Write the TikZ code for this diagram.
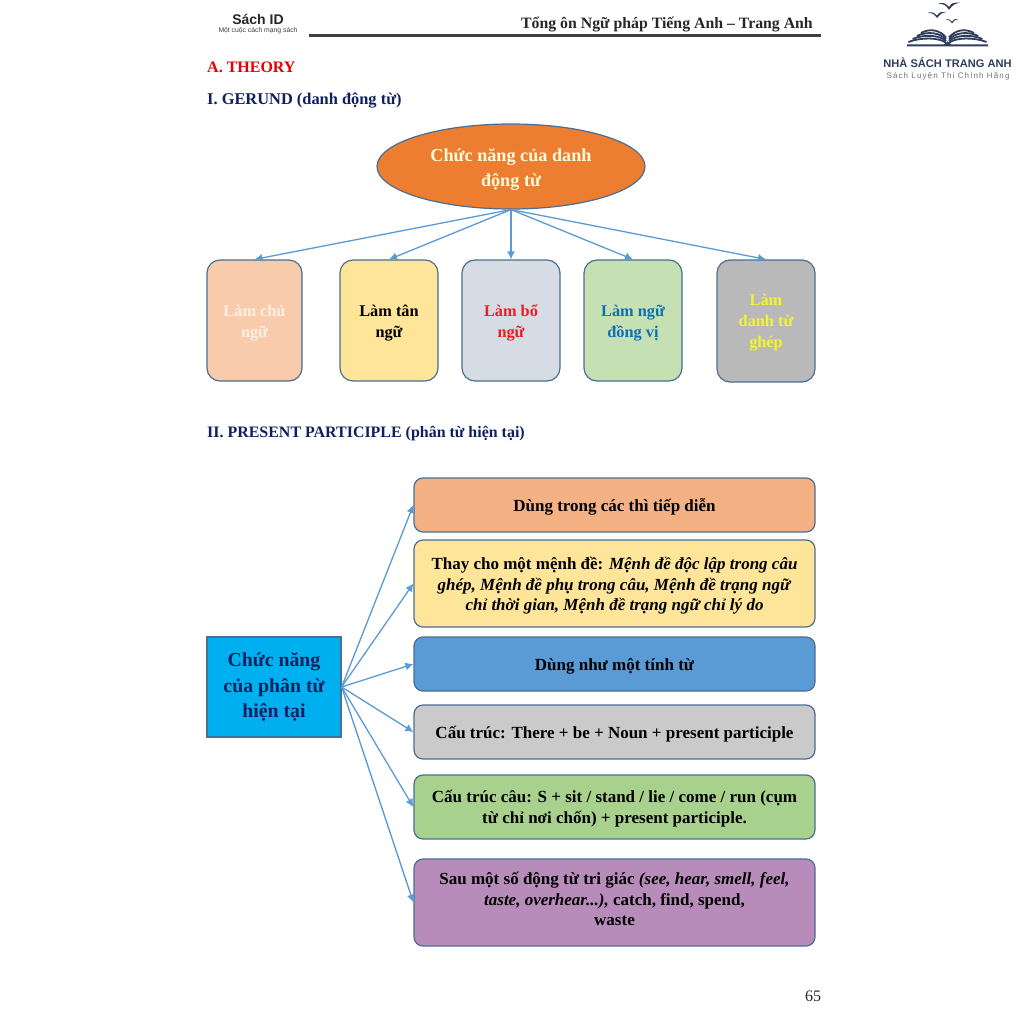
\documentclass[tikz,border=0pt]{standalone}
\usepackage{fontspec}
\setmainfont{Liberation Serif}
\setsansfont{Liberation Sans}
\newfontfamily\lgsub[LetterSpace=14]{Liberation Sans}
\usetikzlibrary{shapes.geometric,arrows.meta}
\definecolor{navy}{HTML}{0F2060}
\definecolor{logob}{HTML}{2F3E5C}
\definecolor{edgeb}{HTML}{4A6E94}
\definecolor{arrowb}{HTML}{5B9BD5}
\newcommand{\uprule}[1]{\rule{0pt}{#1}}
\tikzset{
 x=1pt,y=-1pt,
 rbox/.style={draw=edgeb,line width=1.2pt,rounded corners=13pt,inner sep=0pt,align=center,font=\bfseries\fontsize{16.3}{21}\selectfont},
 wbox/.style={draw=edgeb,line width=1.2pt,rounded corners=9pt,inner sep=0pt,align=center,font=\bfseries\fontsize{17}{20.5}\selectfont},
 conn/.style={draw=arrowb,line width=1.3pt,-{Latex[length=8pt,width=8pt]}},
 hd/.style={anchor=west,inner sep=0pt,font=\bfseries\fontsize{15.95}{18}\selectfont},
}
\newcommand{\bx}[6]{\node[#6,fill=#5,minimum width=#3 pt-#1 pt,minimum height=#4 pt-#2 pt] at ({(#1+#3)/2},{(#2+#4)/2})}
\begin{document}
\begin{tikzpicture}
\useasboundingbox (0,0) rectangle (1024,1024);
\fill[white] (0,0) rectangle (1024,1024);
% header
\node[inner sep=0pt,font=\sffamily\bfseries\fontsize{14}{16}\selectfont,text=black!85] (sid) at (258,19) {Sách ID};
\node[inner sep=0pt,font=\sffamily\fontsize{6.8}{8}\selectfont,text=black!75] (sidsub) at (258,31) {Một cuộc cách mạng sách};
\node[anchor=east,inner sep=0pt,font=\bfseries\fontsize{15.8}{18}\selectfont,text=black!85] (title) at (813,24) {Tổng ôn Ngữ pháp Tiếng Anh – Trang Anh};
\fill[black!75] (309,34.5) rectangle (821,37);
% logo
\foreach \bxx/\byy/\s in {949/5/1.6,937/14/1.35,952/20.5/0.95}{
 \fill[logob] (\bxx-7*\s,\byy-1*\s) .. controls (\bxx-3*\s,\byy-1.5*\s) .. (\bxx,\byy+1.2*\s) .. controls (\bxx+2*\s,\byy-1.5*\s) .. (\bxx+7*\s,\byy-1.5*\s) .. controls (\bxx+3*\s,\byy-0.5*\s) .. (\bxx,\byy+3*\s) .. controls (\bxx-2.5*\s,\byy-0.3*\s) .. cycle;
}
\foreach \i in {0,1,2,3}{
 \draw[logob,line width=1.8pt] ({921-4.2*\i},{33+3*\i}) .. controls ({930-3*\i},{28+3*\i}) and (940,{30+2.5*\i}) .. ({946},{37.5+1.8*\i});
 \draw[logob,line width=1.8pt] ({974+4.2*\i},{33+3*\i}) .. controls ({965+3*\i},{28+3*\i}) and (955,{30+2.5*\i}) .. ({949},{37.5+1.8*\i});
}
\fill[logob] (907,44.3) -- (944,44.3) -- (947.5,41.5) -- (951,44.3) -- (988,44.3) -- (988,46.3) -- (907,46.3) -- cycle;
\node[inner sep=0pt,font=\sffamily\bfseries\fontsize{11.1}{12}\selectfont,text=logob] (lg1) at (947.5,63) {NHÀ SÁCH TRANG ANH};
\node[inner sep=0pt,font=\lgsub\fontsize{8}{9}\selectfont,text=black!55] (lg2) at (948,76.5) {Sách Luyện Thi Chính Hãng};
% headings
\node[hd,text=red!90!black,font=\bfseries\fontsize{16}{20}\selectfont] (ha) at (207,67.5) {A. THEORY};
\node[hd,text=navy,font=\bfseries\fontsize{16.4}{18}\selectfont] (h1) at (207,101) {I. GERUND (danh động từ)};
\node[hd,text=navy] (h2) at (207,434) {II. PRESENT PARTICIPLE (phân từ hiện tại)};
% gerund
\definecolor{eor}{HTML}{ED7D31}
\node[ellipse,draw=edgeb,line width=1.2pt,fill=eor,inner sep=0pt,minimum width=268pt,minimum height=85pt,align=center,text=white!85!yellow,font=\bfseries\fontsize{18.2}{25}\selectfont] (e) at (511,166.5) {\uprule{20pt}Chức năng của danh\\động từ};
\definecolor{c1}{HTML}{F7CBAC}\definecolor{c2}{HTML}{FEE599}\definecolor{c3}{HTML}{D5DCE4}\definecolor{c4}{HTML}{C5E0B3}\definecolor{c5}{HTML}{B9B9B9}
\definecolor{tblue}{HTML}{0F6FB5}\definecolor{tred}{HTML}{EC1C24}\definecolor{tyel}{HTML}{F5F52A}
\bx{207}{260}{302}{381}{c1}{rbox,text=white!90!orange} (g1) {\uprule{16pt}Làm chủ\\ngữ};
\bx{340}{260}{438}{381}{c2}{rbox,text=black} (g2) {\uprule{16pt}Làm tân\\ngữ};
\bx{462}{260}{560}{381}{c3}{rbox,text=tred} (g3) {\uprule{16pt}Làm bổ\\ngữ};
\bx{584}{260}{682}{381}{c4}{rbox,text=tblue} (g4) {\uprule{16pt}Làm ngữ\\đồng vị};
\bx{717}{260}{815}{382}{c5}{rbox,text=tyel} (g5) {\uprule{15pt}Làm\\danh từ\\ghép};
\foreach \t in {g1,g2,g3,g4,g5}{\draw[conn] (e.south) -- (\t.north);}
% participle
\node[draw=edgeb,line width=1.2pt,fill={rgb,255:red,0;green,175;blue,239},inner sep=0pt,minimum width=134pt,minimum height=100pt,align=center,text=navy,font=\bfseries\fontsize{19.8}{25.5}\selectfont] (p) at (274,687) {Chức năng\\của phân từ\\hiện tại};
\definecolor{r1}{HTML}{F4B183}\definecolor{r2}{HTML}{FEE599}\definecolor{r3}{HTML}{5B9BD5}\definecolor{r4}{HTML}{CBCACB}\definecolor{r5}{HTML}{A9D18E}\definecolor{r6}{HTML}{B78CBA}
\bx{414}{478}{815}{532}{r1}{wbox} (w1) {\uprule{17pt}Dùng trong các thì tiếp diễn};
\bx{414}{540}{815}{627}{r2}{wbox} (w2) {\uprule{17pt}Thay cho một mệnh đề: \textit{Mệnh đề độc lập trong câu}\\\textit{ghép, Mệnh đề phụ trong câu, Mệnh đề trạng ngữ}\\\textit{chỉ thời gian, Mệnh đề trạng ngữ chỉ lý do}};
\bx{414}{637}{815}{691}{r3}{wbox} (w3) {\uprule{17pt}Dùng như một tính từ};
\bx{414}{705}{815}{759}{r4}{wbox} (w4) {\uprule{17pt}Cấu trúc: There + be + Noun + present participle};
\bx{414}{775}{815}{839}{r5}{wbox} (w5) {\uprule{15.5pt}Cấu trúc câu: S + sit / stand / lie / come / run (cụm\\từ chỉ nơi chốn) + present participle.};
\bx{414}{859}{815}{946}{r6}{wbox} (w6) {Sau một số động từ tri giác \textit{(see, hear, smell, feel,}\\\textit{taste, overhear...),} catch, find, spend,\\waste\rule[-7.2pt]{0pt}{0pt}};
\foreach \t in {w1,w2,w3,w4,w5,w6}{\draw[conn] (p.east) -- (\t.west);}
\node[inner sep=0pt,font=\fontsize{16}{18}\selectfont,text=black!85] (pg) at (813,996) {65};
\end{tikzpicture}
\end{document}
